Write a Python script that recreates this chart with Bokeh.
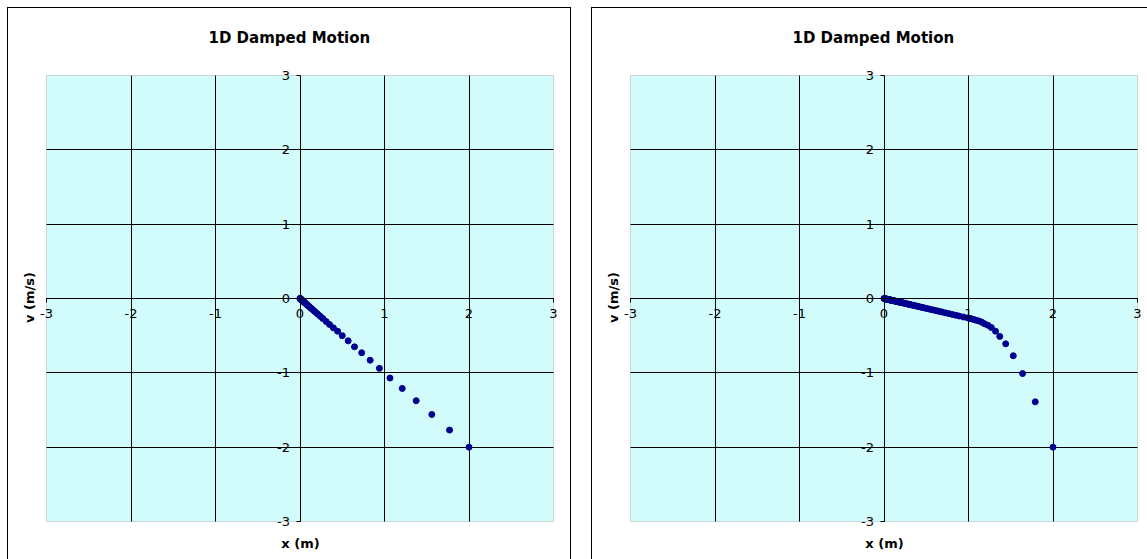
from bokeh.plotting import figure
from bokeh.layouts import row
from bokeh.models import LinearAxis, FixedTicker, Range1d, Grid, BoxAnnotation
from bokeh.embed import file_html
from bokeh.resources import INLINE

TITLE = "1D Damped Motion"
X_LABEL = "x (m)"
V_LABEL = "v (m/s)"
AXIS_MIN, AXIS_MAX = -3, 3
AXIS_TICKS = [-3, -2, -1, 0, 1, 2, 3]
TICK_LABELS = ["-3", "-2", "-1", "0", "1", "2", "3"]
GRID_TICKS = [-2, -1, 0, 1, 2]

# Phase-space samples (position in m, velocity in m/s), first run
x_run1 = [2.00, 1.77, 1.56, 1.375, 1.21, 1.065, 0.94, 0.83, 0.73, 0.645,
          0.57, 0.50, 0.445, 0.395, 0.35, 0.31, 0.27, 0.24, 0.21, 0.185,
          0.165, 0.145, 0.13, 0.115, 0.10, 0.09, 0.08, 0.07, 0.06, 0.055,
          0.048, 0.042, 0.037, 0.033, 0.029, 0.025, 0.022, 0.02, 0.017, 0.015,
          0.013, 0.012, 0.01, 0.009, 0.008, 0.007, 0.006, 0.005, 0.004, 0.003,
          0.002, 0.001, 0.0]
v_run1 = [-2.00, -1.77, -1.56, -1.375, -1.21, -1.07, -0.94, -0.83, -0.73, -0.65,
          -0.57, -0.50, -0.44, -0.395, -0.35, -0.31, -0.27, -0.24, -0.21, -0.185,
          -0.165, -0.145, -0.13, -0.115, -0.10, -0.09, -0.08, -0.07, -0.06, -0.055,
          -0.048, -0.042, -0.037, -0.033, -0.029, -0.025, -0.022, -0.02, -0.017, -0.015,
          -0.013, -0.012, -0.01, -0.009, -0.008, -0.007, -0.006, -0.005, -0.004, -0.003,
          -0.002, -0.001, 0.0]

# Phase-space samples, second run (heavier damping)
x_run2 = [2.00, 1.79, 1.64, 1.53, 1.44, 1.37, 1.32, 1.27, 1.23, 1.19,
          1.16, 1.13, 1.10, 1.07, 1.04, 1.02, 0.99, 0.94, 0.89, 0.85,
          0.81, 0.77, 0.73, 0.69, 0.66, 0.63, 0.60, 0.57, 0.54, 0.51,
          0.485, 0.46, 0.44, 0.415, 0.395, 0.375, 0.355, 0.34, 0.32, 0.305,
          0.29, 0.275, 0.26, 0.25, 0.235, 0.225, 0.21, 0.20, 0.19, 0.18,
          0.17, 0.16, 0.155, 0.145, 0.14, 0.13, 0.125, 0.12, 0.11, 0.105,
          0.10, 0.095, 0.09, 0.085, 0.08, 0.075, 0.07, 0.065, 0.06, 0.055,
          0.05, 0.045, 0.04, 0.035, 0.03, 0.025, 0.02, 0.015, 0.01, 0.005, 0.0]
v_run2 = [-2.00, -1.39, -1.01, -0.77, -0.61, -0.51, -0.44, -0.39, -0.36, -0.34,
          -0.32, -0.305, -0.295, -0.285, -0.275, -0.268, -0.261, -0.249, -0.236, -0.225,
          -0.215, -0.204, -0.194, -0.183, -0.175, -0.167, -0.159, -0.151, -0.143, -0.135,
          -0.129, -0.122, -0.117, -0.110, -0.105, -0.099, -0.094, -0.090, -0.085, -0.081,
          -0.077, -0.073, -0.069, -0.066, -0.062, -0.060, -0.056, -0.053, -0.050, -0.048,
          -0.045, -0.042, -0.041, -0.038, -0.037, -0.034, -0.033, -0.032, -0.029, -0.028,
          -0.027, -0.025, -0.024, -0.023, -0.021, -0.020, -0.019, -0.017, -0.016, -0.015,
          -0.013, -0.012, -0.011, -0.009, -0.008, -0.007, -0.005, -0.004, -0.003, -0.001, 0.0]

FONT = "DejaVu Sans"
PLOT_BG = "#D2FCFC"
MARKER = "#000090"

# plot-area geometry in pixels (the cyan square spans AXIS_MIN..AXIS_MAX)
AREA_W, AREA_H = 507, 446
PX_X = AREA_W / (AXIS_MAX - AXIS_MIN)
PX_Y = AREA_H / (AXIS_MAX - AXIS_MIN)
PAD_L, PAD_R, PAD_T, PAD_B = 7, 8, 9, 7   # room for edge tick labels
PANEL_H = 552


def make_panel(xs, vs, width, border_css, right_border):
    x_range = Range1d(AXIS_MIN - PAD_L / PX_X, AXIS_MAX + PAD_R / PX_X)
    y_range = Range1d(AXIS_MIN - PAD_B / PX_Y, AXIS_MAX + PAD_T / PX_Y)
    p = figure(width=width, height=PANEL_H, title=TITLE,
               x_range=x_range, y_range=y_range,
               x_axis_type=None, y_axis_type=None,
               output_backend="svg", toolbar_location=None,
               min_border_left=39 - PAD_L, min_border_right=right_border,
               min_border_top=68 - PAD_T, min_border_bottom=38 - PAD_B)
    p.background_fill_alpha = 0
    p.border_fill_alpha = 0
    p.outline_line_color = None
    p.styles = {"box-shadow": border_css}

    p.title.align = "left"
    p.title.offset = 169
    p.title.standoff = 39
    p.title.vertical_align = "bottom"
    p.title.text_font = FONT
    p.title.text_font_style = "bold"
    p.title.text_font_size = "15px"
    p.title.text_color = "#000000"

    # cyan plotting area with its grey border
    p.add_layout(BoxAnnotation(left=AXIS_MIN, right=AXIS_MAX,
                               bottom=AXIS_MIN, top=AXIS_MAX,
                               fill_color=PLOT_BG, fill_alpha=1,
                               line_color="#808080", line_width=1,
                               level="underlay"))

    for dim in (0, 1):
        g = Grid(dimension=dim, ticker=FixedTicker(ticks=GRID_TICKS),
                 bounds=(AXIS_MIN, AXIS_MAX),
                 cross_bounds=(AXIS_MIN, AXIS_MAX),
                 grid_line_color="#000000", grid_line_width=1)
        p.add_layout(g)

    overrides = dict(zip(AXIS_TICKS, TICK_LABELS))
    # axes crossing at the origin
    for side in ("below", "left"):
        ax = LinearAxis(ticker=FixedTicker(ticks=AXIS_TICKS), fixed_location=0,
                        bounds=(AXIS_MIN, AXIS_MAX),
                        major_label_overrides=overrides,
                        axis_line_color="#000000", major_tick_line_color="#000000",
                        major_tick_out=4, major_tick_in=0,
                        minor_tick_out=0, minor_tick_in=0,
                        major_label_standoff=6,
                        major_label_text_font=FONT, major_label_text_font_size="13px",
                        major_label_text_color="#000000")
        p.add_layout(ax, side)

    # axis titles at the edges of the panel
    for side, text, standoff in (("below", X_LABEL, 7), ("left", V_LABEL, 3)):
        ax = LinearAxis(ticker=FixedTicker(ticks=[]), axis_label=text,
                        axis_line_color=None, major_tick_out=0, major_tick_in=0,
                        minor_tick_out=0, minor_tick_in=0,
                        major_label_text_font_size="0px",
                        axis_label_standoff=standoff,
                        axis_label_text_font=FONT, axis_label_text_font_size="13px",
                        axis_label_text_font_style="bold",
                        axis_label_text_color="#000000")
        p.add_layout(ax, side)

    p.scatter(xs, vs, size=6, fill_color=MARKER, line_color=MARKER)
    return p


p1 = make_panel(x_run1, v_run1, 564,
                "inset 1px 1px 0 0 #000000, inset -1px 0 0 0 #000000",
                18 - PAD_R)
p1.margin = (7, 0, 0, 7)
p2 = make_panel(x_run2, v_run2, 556, "inset 1px 1px 0 0 #000000",
                10 - PAD_R)
p2.margin = (7, 0, 0, 20)

layout = row(p1, p2)
open("out.html", "w").write(file_html(layout, INLINE, title=TITLE))
